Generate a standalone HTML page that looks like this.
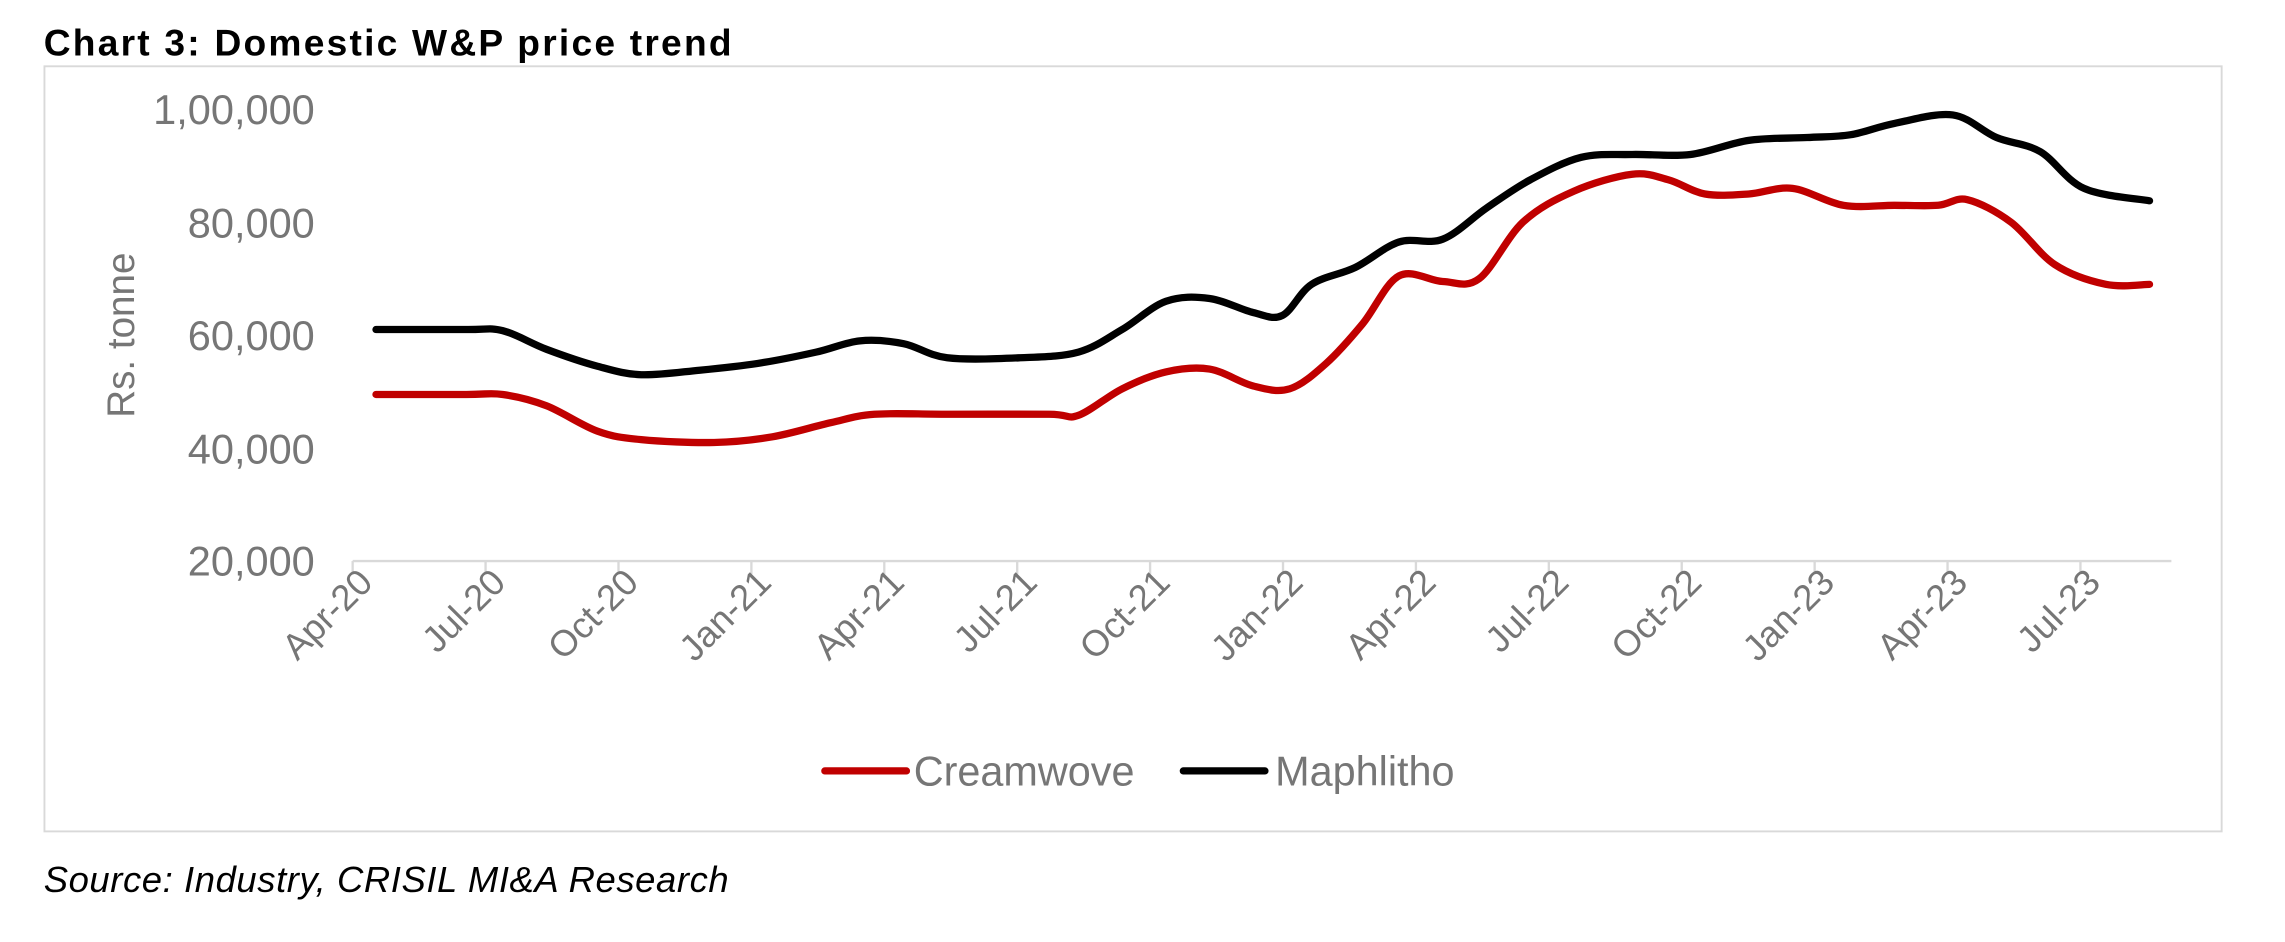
<!DOCTYPE html>
<html><head><meta charset="utf-8"><style>
html,body{margin:0;padding:0;background:#fff;}
svg{display:block;font-family:"Liberation Sans",Arial,sans-serif;}
</style></head><body>
<svg width="2285" height="942" viewBox="0 0 2285 942" xmlns="http://www.w3.org/2000/svg">
<g transform="scale(1.4573)">
<text x="30" y="38" font-size="25.5" font-weight="bold" fill="#000" textLength="472">Chart 3: Domestic W&amp;P price trend</text>
<rect x="30.5" y="45.5" width="1494" height="525" fill="none" stroke="#d9d9d9" stroke-width="1.3"/>
<g fill="#767676" font-size="28.5" text-anchor="end">
<text x="216" y="85">1,00,000</text>
<text x="216" y="163">80,000</text>
<text x="216" y="240">60,000</text>
<text x="216" y="318">40,000</text>
<text x="216" y="395">20,000</text>
</g>
<text transform="translate(92,230) rotate(-90)" font-size="26.5" fill="#767676" text-anchor="middle">Rs. tonne</text>
<line x1="242" y1="385" x2="1490" y2="385" stroke="#d9d9d9" stroke-width="1.6"/>
<g id="ticks" stroke="#d9d9d9" stroke-width="1.6"></g>
<g id="xl" fill="#767676" font-size="25" text-anchor="end"></g>
<path id="red" fill="none" stroke="#c00000" stroke-width="5" stroke-linecap="round" stroke-linejoin="round"/>
<path id="blk" fill="none" stroke="#000" stroke-width="5" stroke-linecap="round" stroke-linejoin="round"/>
<line x1="566" y1="529" x2="622" y2="529" stroke="#c00000" stroke-width="5" stroke-linecap="round"/>
<text x="627" y="539" font-size="28.4" fill="#767676">Creamwove</text>
<line x1="812" y1="529" x2="868" y2="529" stroke="#000" stroke-width="5" stroke-linecap="round"/>
<text x="875" y="539" font-size="28.4" fill="#767676">Maphlitho</text>
<text x="30" y="612" font-size="25" font-style="italic" fill="#000" textLength="470">Source: Industry, CRISIL MI&amp;A Research</text>
</g>
</svg>
<script>
var NS="http://www.w3.org/2000/svg";
var labs=["Apr-20","Jul-20","Oct-20","Jan-21","Apr-21","Jul-21","Oct-21","Jan-22","Apr-22","Jul-22","Oct-22","Jan-23","Apr-23","Jul-23"];
var t=document.getElementById("ticks"),xl=document.getElementById("xl");
for(var i=0;i<labs.length;i++){var x=242+91.2*i;
var l=document.createElementNS(NS,"line");l.setAttribute("x1",x);l.setAttribute("x2",x);l.setAttribute("y1",385);l.setAttribute("y2",394);t.appendChild(l);
var tx=document.createElementNS(NS,"text");tx.setAttribute("transform","translate("+(x+15)+",401) rotate(-45)");tx.textContent=labs[i];xl.appendChild(tx);}
function Y(v){return 385-(v-20000)/80000*310;}
var blk=[[258,61000],[320,61000],[345,60800],[375,57500],[410,54500],[440,53000],[480,53800],[520,55000],[560,57000],[590,59000],[620,58500],[650,56000],[700,56000],[740,57000],[770,61000],[800,66000],[830,66500],[860,64000],[880,63500],[900,69000],[930,72000],[960,76500],[990,77000],[1020,82500],[1050,87500],[1085,91500],[1120,92000],[1160,92000],[1200,94500],[1240,95000],[1270,95500],[1300,97500],[1340,99000],[1370,95000],[1400,92500],[1430,86000],[1475,83800]];
var red=[[258,49500],[320,49500],[345,49500],[375,47500],[410,43000],[440,41500],[490,41000],[530,42000],[570,44500],[600,46000],[650,46000],[720,46000],[740,45800],[770,50500],[800,53500],[830,54000],[860,51000],[885,50500],[910,55000],[935,62000],[960,70500],[990,69500],[1015,70000],[1045,80000],[1080,85500],[1120,88500],[1145,87500],[1170,85000],[1200,85000],[1230,86000],[1265,83000],[1300,83000],[1330,83000],[1350,84000],[1380,80000],[1410,72500],[1445,69000],[1475,69000]];
function path(d){var p=d.map(function(a){return [a[0],Y(a[1])];});
var s="M"+p[0][0]+","+p[0][1];
for(var i=0;i<p.length-1;i++){var p0=p[i-1]||p[i],p1=p[i],p2=p[i+1],p3=p[i+2]||p2;
var c1=[p1[0]+(p2[0]-p0[0])/6,p1[1]+(p2[1]-p0[1])/6],c2=[p2[0]-(p3[0]-p1[0])/6,p2[1]-(p3[1]-p1[1])/6];
s+=" C"+c1+" "+c2+" "+p2;}return s;}
document.getElementById("red").setAttribute("d",path(red));
document.getElementById("blk").setAttribute("d",path(blk));
</script>
</body></html>
